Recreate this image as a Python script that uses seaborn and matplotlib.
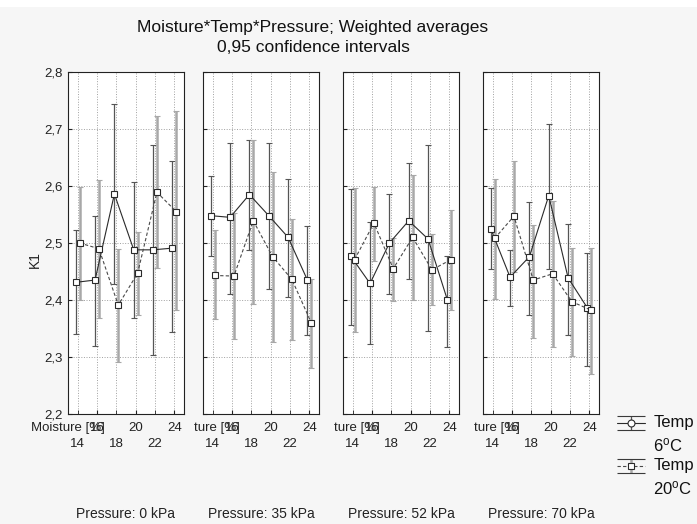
import numpy as np
import pandas as pd
import matplotlib
matplotlib.use("Agg")
import matplotlib.pyplot as plt
import seaborn as sns
from matplotlib.container import ErrorbarContainer
from matplotlib.legend_handler import HandlerErrorbar
from matplotlib.lines import Line2D
from matplotlib.patches import Rectangle
from matplotlib.transforms import Bbox, TransformedBbox, blended_transform_factory, offset_copy

# ---------------- data ----------------
pressures = ["Pressure: 0 kPa", "Pressure: 35 kPa", "Pressure: 52 kPa", "Pressure: 70 kPa"]
moisture = [14, 16, 18, 20, 22, 24]
temps = ["6C", "20C"]
temp_labels = ["Temp\n6$^{\\mathrm{o}}$C", "Temp\n20$^{\\mathrm{o}}$C"]
ytick_values = [2.2, 2.3, 2.4, 2.5, 2.6, 2.7, 2.8]
ytick_labels = ["2,2", "2,3", "2,4", "2,5", "2,6", "2,7", "2,8"]

k1_6C = [
    [2.431, 2.435, 2.586, 2.488, 2.488, 2.491],
    [2.548, 2.545, 2.585, 2.548, 2.510, 2.435],
    [2.477, 2.429, 2.500, 2.539, 2.507, 2.400],
    [2.525, 2.440, 2.476, 2.583, 2.439, 2.386],
]
lo_6C = [
    [2.341, 2.320, 2.428, 2.368, 2.303, 2.344],
    [2.478, 2.411, 2.487, 2.420, 2.406, 2.338],
    [2.357, 2.322, 2.411, 2.436, 2.345, 2.317],
    [2.455, 2.390, 2.373, 2.455, 2.338, 2.285],
]
hi_6C = [
    [2.523, 2.548, 2.744, 2.607, 2.672, 2.643],
    [2.618, 2.676, 2.681, 2.676, 2.612, 2.529],
    [2.594, 2.536, 2.586, 2.640, 2.672, 2.478],
    [2.596, 2.487, 2.572, 2.709, 2.533, 2.483],
]
k1_20C = [
    [2.500, 2.490, 2.391, 2.447, 2.589, 2.555],
    [2.443, 2.442, 2.539, 2.476, 2.436, 2.360],
    [2.471, 2.535, 2.455, 2.510, 2.453, 2.471],
    [2.508, 2.547, 2.435, 2.446, 2.397, 2.382],
]
lo_20C = [
    [2.400, 2.369, 2.291, 2.374, 2.456, 2.382],
    [2.366, 2.331, 2.393, 2.327, 2.330, 2.280],
    [2.344, 2.468, 2.399, 2.400, 2.392, 2.382],
    [2.402, 2.449, 2.334, 2.318, 2.302, 2.271],
]
hi_20C = [
    [2.598, 2.611, 2.490, 2.520, 2.722, 2.732],
    [2.522, 2.553, 2.680, 2.624, 2.542, 2.437],
    [2.596, 2.599, 2.508, 2.620, 2.516, 2.558],
    [2.612, 2.644, 2.532, 2.574, 2.491, 2.491],
]

rows = []
for p, pname in enumerate(pressures):
    for t, (m_, l_, h_) in zip(temps, [(k1_6C, lo_6C, hi_6C), (k1_20C, lo_20C, hi_20C)]):
        for i, mo in enumerate(moisture):
            rows.append(dict(pressure=pname, moisture=mo, temp=t,
                             k1=m_[p][i], lo=l_[p][i], hi=h_[p][i]))
df = pd.DataFrame(rows)

# ---------------- style ----------------
sns.set_style("ticks")
plt.rcParams["font.family"] = ["Liberation Sans", "DejaVu Sans"]
plt.rcParams["mathtext.fontset"] = "custom"
plt.rcParams["mathtext.rm"] = "Liberation Sans"
plt.rcParams["mathtext.it"] = "Liberation Sans:italic"

W, H = 697, 524
fig = plt.figure(figsize=(W / 100, H / 100), dpi=100, facecolor="#f6f6f6")
fig.patches.append(Rectangle((0, 1 - 7 / H), 1, 7 / H, transform=fig.transFigure,
                             facecolor="white", edgecolor="none", zorder=-10))

lefts = [68, 203, 343, 483]
pw = 116
bottom_px, top_px = 414, 72

line_colors = {"6C": "#2a2a2a", "20C": "#4a4a4a"}
err_colors = {"6C": "#555555", "20C": "#a8a8a8"}
err_lw = {"6C": 0.9, "20C": 1.8}
tick_fs = 9.5
lab_fs = 10

axes = []
eb_store = {}
for p, pname in enumerate(pressures):
    ax = fig.add_axes([lefts[p] / W, 1 - bottom_px / H, pw / W, (bottom_px - top_px) / H])
    ax.set_facecolor("white")
    sub = df[df.pressure == pname]
    sns.pointplot(data=sub, x="moisture", y="k1", hue="temp", order=moisture,
                  hue_order=temps, palette=line_colors, markers=["s", "s"],
                  linestyles=["-", (0, (3, 2))], dodge=0.2, errorbar=None,
                  legend=False, ax=ax, linewidth=0.8, markersize=4.6,
                  markeredgewidth=0.8, markerfacecolor="white")
    lines = list(ax.lines)
    for ln, t in zip(lines, temps):
        ln.set_zorder(4)
        ln.set_markeredgecolor("#2a2a2a")
        ln.set_markerfacecolor("white")
        s = sub[sub.temp == t].set_index("moisture").loc[moisture]
        xs = ln.get_xdata()
        yerr = [s.k1.values - s.lo.values, s.hi.values - s.k1.values]
        eb = ax.errorbar(xs, s.k1.values, yerr=yerr, fmt="none", ecolor=err_colors[t],
                         elinewidth=err_lw[t], capsize=2.5, capthick=0.8, zorder=3)
        for cap in eb.lines[1]:
            cap.set_color("#3a3a3a")
        eb_store[t] = eb

    ax.set_ylim(ytick_values[0], ytick_values[-1])
    ax.set_yticks(ytick_values)
    if p == 0:
        ax.set_yticklabels(ytick_labels, fontsize=tick_fs)
    else:
        ax.set_yticklabels([])
    ax.set_xlim(-0.5, len(moisture) - 0.5)
    pos = np.arange(len(moisture))
    ax.set_xticks(pos[1::2])
    ax.set_xticklabels([str(m) for m in moisture[1::2]], fontsize=tick_fs)
    ax.set_xticks(pos[0::2], minor=True)
    ax.set_xticklabels([str(m) for m in moisture[0::2]], minor=True, fontsize=tick_fs)
    ax.tick_params(axis="x", which="major", direction="in", length=3, pad=6, colors="#222222")
    ax.tick_params(axis="x", which="minor", direction="in", length=3, pad=17.5, colors="#222222")
    ax.tick_params(axis="y", direction="in", length=3, pad=4, colors="#222222")
    ax.grid(True, which="major", ls=":", color="#a0a0a0", lw=0.7)
    ax.grid(True, which="minor", axis="x", ls=":", color="#a0a0a0", lw=0.7)
    ax.set_axisbelow(True)
    for sp in ax.spines.values():
        sp.set_visible(True)
        sp.set_color("#222222")
        sp.set_linewidth(0.8)
    ax.set_xlabel("")
    ax.set_ylabel("")

    # axis name drawn over the "16" label, partially hidden in panels 2-4
    tr = offset_copy(blended_transform_factory(ax.transData, ax.transAxes), fig=fig,
                     x=8, y=-6 * 100 / 72, units="dots")
    txt = ax.text(moisture.index(16), 0, "Moisture [%]", transform=tr, ha="right",
                  va="top", fontsize=tick_fs, color="#222222")
    if p > 0:
        clip_x = (lefts[p] - 9) / W
        txt.set_clip_box(TransformedBbox(Bbox.from_extents(clip_x, 0, 1, 1), fig.transFigure))
        txt.set_clip_on(True)

    ax.text(0.5, -0.2925, pname, transform=ax.transAxes, ha="center", va="center",
            fontsize=lab_fs, color="#222222")
    axes.append(ax)

fig.text(35 / W, 1 - 260 / H, "K1", rotation=90, ha="center", va="center",
         fontsize=10, color="#222222")
fig.text(313 / W, 1 - 37.5 / H,
         "Moisture*Temp*Pressure; Weighted averages\n0,95 confidence intervals",
         ha="center", va="center", fontsize=12.5, linespacing=1.4, color="#111111")


# ---------------- legend ----------------
class UpperErrorbarHandler(HandlerErrorbar):
    def create_artists(self, legend, orig_handle, xdescent, ydescent, width, height,
                       fontsize, trans):
        shift = 0.72 * fontsize
        return super().create_artists(legend, orig_handle, xdescent, ydescent - 2 * shift,
                                      width, height, fontsize, trans)


handles = []
proxy_markers = {"6C": "o", "20C": "s"}
proxy_ls = {"6C": "-", "20C": (0, (3, 2))}
for t in temps:
    pl = Line2D([], [], color=line_colors[t], lw=0.8, ls=proxy_ls[t], marker=proxy_markers[t],
                markersize=5, markerfacecolor="white", markeredgecolor="#2a2a2a",
                markeredgewidth=0.8)
    cap = Line2D([], [], ls="none", marker="_", markersize=20, markeredgewidth=0.8,
                 color="#3a3a3a")
    handles.append(ErrorbarContainer((pl, (cap,), eb_store[t].lines[2]),
                                     has_xerr=False, has_yerr=True))

leg = fig.legend(handles, temp_labels, loc="upper left",
                 bbox_to_anchor=(617 / W, 1 - 414.5 / H), bbox_transform=fig.transFigure,
                 frameon=False, fontsize=12, borderpad=0, borderaxespad=0,
                 handlelength=1.68, handletextpad=0.5, labelspacing=0.2,
                 handler_map={ErrorbarContainer: UpperErrorbarHandler(xerr_size=0.42)})
for t in leg.get_texts():
    t.set_linespacing(1.45)
    t.set_color("#111111")

fig.savefig("out.png", dpi=100, facecolor=fig.get_facecolor())
